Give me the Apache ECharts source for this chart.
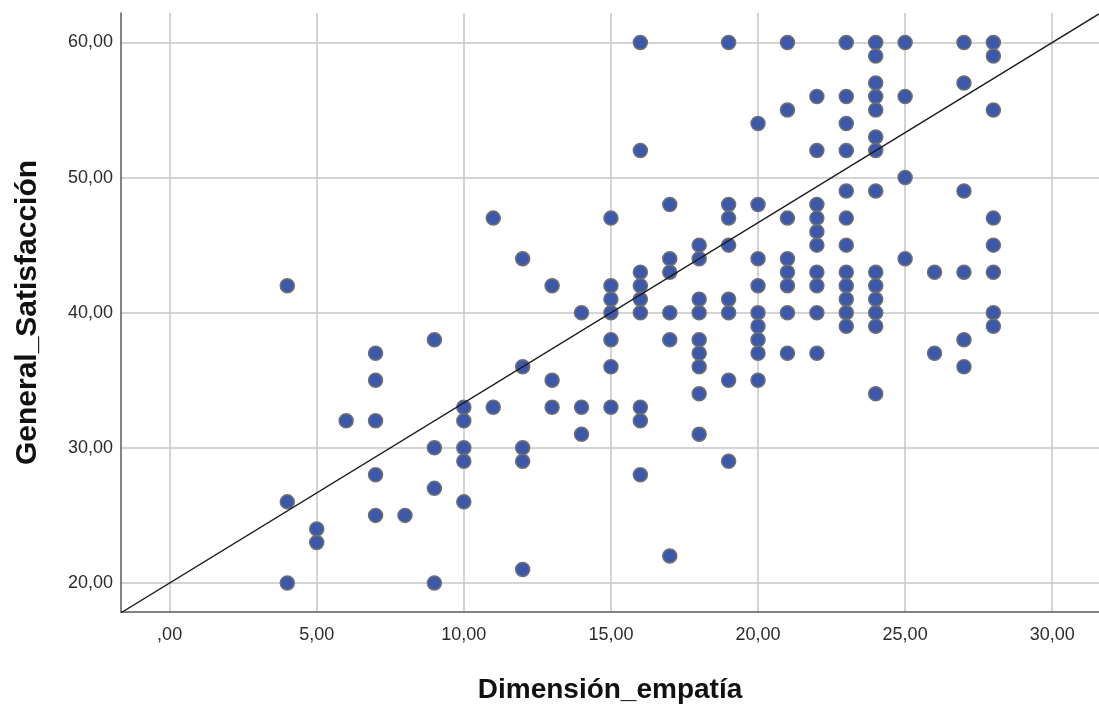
<!DOCTYPE html>
<html>
<head>
<meta charset="utf-8">
<script src="https://cdn.jsdelivr.net/npm/echarts@6/dist/echarts.min.js"></script>
<style>
  html, body { margin: 0; padding: 0; background: #fff; }
  #chart { width: 1099px; height: 708px; }
</style>
</head>
<body>
<div id="chart"></div>
<script>
// Empathy score (x) against general satisfaction (y), one array of y values per x score
const empathyScores = [4, 5, 6, 7, 8, 9, 10, 11, 12, 13, 14, 15, 16, 17, 18, 19, 20, 21, 22, 23, 24, 25, 26, 27, 28];
const satisfactionByScore = [
  [42, 26, 20],
  [24, 23],
  [32],
  [37, 35, 32, 28, 25],
  [25],
  [38, 30, 27, 20],
  [33, 32, 30, 29, 26],
  [47, 33],
  [44, 36, 30, 29, 21],
  [42, 35, 33],
  [40, 33, 31],
  [47, 42, 41, 40, 38, 36, 33],
  [60, 52, 43, 42, 41, 40, 33, 32, 28],
  [48, 44, 43, 40, 38, 22],
  [45, 44, 41, 40, 38, 37, 36, 34, 31],
  [60, 48, 47, 45, 41, 40, 35, 29],
  [54, 48, 44, 42, 40, 39, 38, 37, 35],
  [60, 55, 47, 44, 43, 42, 40, 37],
  [56, 52, 48, 47, 46, 45, 43, 42, 40, 37],
  [60, 56, 54, 52, 49, 47, 45, 43, 42, 41, 40, 39],
  [60, 59, 57, 56, 55, 53, 52, 49, 43, 42, 41, 40, 39, 34],
  [60, 56, 50, 44],
  [43, 37],
  [60, 57, 49, 43, 38, 36],
  [60, 59, 55, 47, 45, 43, 40, 39]
];

// Tick labels on both axes
const xTicks = [0, 5, 10, 15, 20, 25, 30];
const yTicks = [20, 30, 40, 50, 60];

// Fit line: satisfaction = intercept + slope * empathy
const fitIntercept = 20;
const fitSlope = 4 / 3;

const xRange = [-1.653, 31.59];
const yRange = [17.85, 62.18];

const points = [];
empathyScores.forEach((x, i) => {
  satisfactionByScore[i].forEach(y => points.push([x, y]));
});

const fitLine = xRange.map(x => [x, fitIntercept + fitSlope * x]);

const fmt = v => {
  const s = v.toFixed(2).replace('.', ',');
  return v === 0 ? s.replace(/^0/, '') : s;
};

const chart = echarts.init(document.getElementById('chart'), null, { renderer: 'canvas' });

const labelFont = {
  color: '#2b2b2b',
  fontFamily: 'Liberation Sans, Arial, sans-serif',
  fontSize: 18
};
const titleFont = {
  color: '#111',
  fontFamily: 'Liberation Sans, Arial, sans-serif',
  fontSize: 28,
  fontWeight: 'bold'
};

chart.setOption({
  animation: false,
  backgroundColor: '#ffffff',
  grid: { left: 121, top: 13, right: 0, bottom: 96, containLabel: false, outerBoundsMode: 'none' },
  xAxis: {
    type: 'value',
    min: xRange[0],
    max: xRange[1],
    name: 'Dimensión_empatía',
    nameLocation: 'middle',
    nameGap: 64,
    nameTextStyle: titleFont,
    axisLine: { show: true, onZero: false, lineStyle: { color: '#5a5a5a', width: 1.5 } },
    axisTick: { show: false, customValues: xTicks },
    axisLabel: Object.assign({ customValues: xTicks, margin: 14, formatter: fmt }, labelFont),
    splitLine: { show: true, lineStyle: { color: '#c6c6c6', width: 1.5 } }
  },
  yAxis: {
    type: 'value',
    min: yRange[0],
    max: yRange[1],
    name: 'General_Satisfacción',
    nameLocation: 'middle',
    nameGap: 78,
    nameTextStyle: Object.assign({}, titleFont, { fontSize: 30 }),
    axisLine: { show: true, onZero: false, lineStyle: { color: '#5a5a5a', width: 1.5 } },
    axisTick: { show: false, customValues: yTicks },
    axisLabel: Object.assign({ customValues: yTicks, margin: 8, formatter: fmt }, labelFont),
    splitLine: { show: true, lineStyle: { color: '#c6c6c6', width: 1.5 } }
  },
  series: [
    {
      type: 'line',
      data: fitLine,
      symbol: 'none',
      silent: true,
      clip: true,
      lineStyle: { color: '#1a1a1a', width: 1.4 },
      z: 3
    },
    {
      type: 'scatter',
      data: points,
      symbol: 'circle',
      symbolSize: 14,
      itemStyle: { color: '#3b58ab', borderColor: '#707070', borderWidth: 1.5, opacity: 1 },
      z: 2
    }
  ]
});
</script>
</body>
</html>
